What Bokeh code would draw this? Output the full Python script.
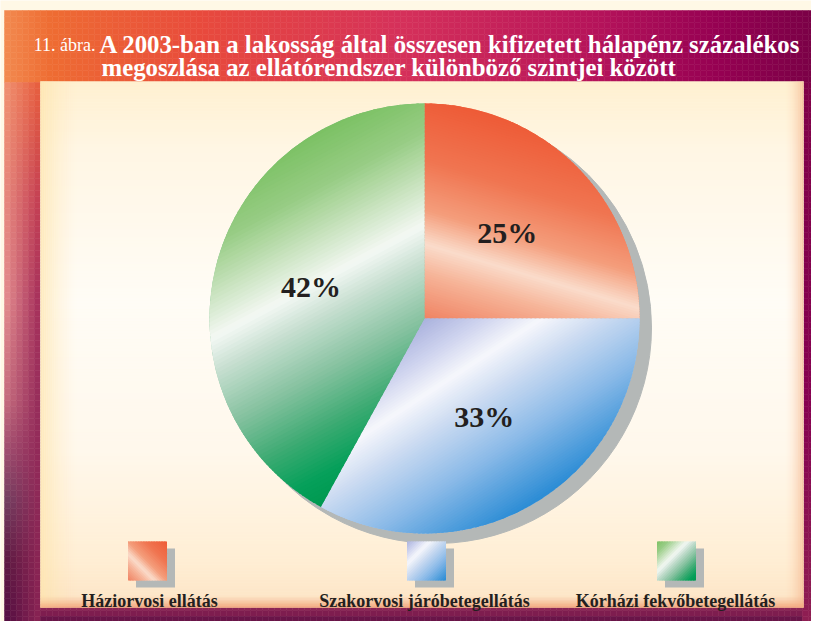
import numpy as np
from bokeh.plotting import figure
from bokeh.models import Range1d
from bokeh.embed import file_html
from bokeh.resources import INLINE
from bokeh.core.properties import value

# ---------------- data ----------------
categories = ["Háziorvosi ellátás", "Szakorvosi járóbetegellátás", "Kórházi fekvőbetegellátás"]
shares = [25, 33, 42]
pct_labels = ["25%", "33%", "42%"]
title_prefix = "11. ábra."
title_lines = ["A 2003-ban a lakosság által összesen kifizetett hálapénz százalékos",
               "megoszlása az ellátórendszer különböző szintjei között"]

# ---------------- styles ----------------
base_colors = ["#F2845F", "#A8C8EC", "#72BC8A"]
grad_dirs = [(-0.287, 0.958), (0.547, 0.837), (0.470, 0.883)]   # screen direction (y down)
grad_stops = [
    [(0, "#EE5A36"), (0.3, "#F07652"), (0.52, "#F49E7C"), (0.67, "#FADCCB"), (0.8, "#F6B498"), (1.0, "#F08464")],
    [(0, "#A9B1DD"), (0.15, "#CDD2EE"), (0.3, "#F6F7FC"), (0.45, "#CFDDF2"), (0.7, "#8DBBE8"), (1.0, "#2B8CD5")],
    [(0, "#7BC163"), (0.15, "#97CC84"), (0.3, "#CFE6C6"), (0.4, "#F4F8F4"), (0.5, "#C5DECF"),
     (0.65, "#86C2A0"), (0.8, "#3CAA72"), (0.92, "#05A05A"), (1.0, "#009850")],
]
legend_dirs = [(-0.707, 0.707), (0.707, 0.707), (0.707, 0.707)]
shadow_col = "#B4B8B7"
text_col = "#231F20"
SERIF = "Liberation Serif"

REF_H = 637
W, H = 811, 621


def Y(y):
    return REF_H - y


def hex2rgb(h):
    h = h.lstrip('#')
    return np.array([int(h[i:i + 2], 16) for i in (0, 2, 4)], float)


def rgb2hex(c):
    c = np.clip(np.round(c), 0, 255).astype(int)
    return "#%02x%02x%02x" % tuple(c)


def interp(stops, t):
    ts = [s[0] for s in stops]
    cs = [hex2rgb(s[1]) for s in stops]
    t = min(max(t, ts[0]), ts[-1])
    for i in range(len(ts) - 1):
        if t <= ts[i + 1]:
            d = ts[i + 1] - ts[i]
            f = (t - ts[i]) / d if d > 0 else 0.0
            return cs[i] * (1 - f) + cs[i + 1] * f
    return cs[-1]


def clip(poly, n, c, keep_ge):
    out = []
    L = len(poly)
    for i in range(L):
        P = poly[i]
        Q = poly[(i + 1) % L]
        dp = P[0] * n[0] + P[1] * n[1] - c
        dq = Q[0] * n[0] + Q[1] * n[1] - c
        if not keep_ge:
            dp, dq = -dp, -dq
        if dp >= 0:
            out.append(P)
        if (dp >= 0) != (dq >= 0):
            t = dp / (dp - dq)
            out.append((P[0] + t * (Q[0] - P[0]), P[1] + t * (Q[1] - P[1])))
    return out


def gradient_patches(poly, n_screen, stops, nstrips=80):
    n = np.array([n_screen[0], -n_screen[1]], float)
    n = n / np.linalg.norm(n)
    proj = [q[0] * n[0] + q[1] * n[1] for q in poly]
    lo, hi = min(proj), max(proj)
    step = (hi - lo) / nstrips
    xs, ys, cols = [], [], []
    for k in range(nstrips):
        a = lo + k * step - 0.7
        b = lo + (k + 1) * step + 0.7
        piece = clip(poly, n, a, True)
        if len(piece) < 3:
            continue
        piece = clip(piece, n, b, False)
        if len(piece) < 3:
            continue
        xs.append([q[0] for q in piece])
        ys.append([q[1] for q in piece])
        cols.append(rgb2hex(interp(stops, (k + 0.5) / nstrips)))
    return xs, ys, cols


p = figure(width=W, height=H, x_range=Range1d(0, W), y_range=Range1d(REF_H - H, REF_H),
           output_backend="svg", toolbar_location=None, min_border=0,
           x_axis_type=None, y_axis_type=None)
p.grid.visible = False
p.outline_line_color = None
p.background_fill_color = "#FFF8E6"
p.border_fill_color = "#FFF8E6"

# ---------------- frame ----------------
FL, FT, FR, FB = 4, 10, 811, 621
PL, PT, PR, PB = 40, 81, 803, 607

top_stops = [(4, "#F28A50"), (50, "#EE6C32"), (200, "#E84A3C"), (400, "#D5305A"),
             (600, "#B4125A"), (720, "#950052"), (811, "#7A0046")]
left_in = [(80, "#E85C3A"), (200, "#C23A50"), (300, "#A22A58"), (400, "#932858"), (621, "#8B2454")]
left_out = [(80, "#F09272"), (200, "#E88C80"), (300, "#E69090"), (400, "#C87080"), (450, "#A05070"),
            (500, "#704060"), (560, "#5A1840"), (621, "#500C40")]
right_stops = [(10, "#7E0046"), (400, "#860050"), (621, "#8E1E52")]
bottom_stops = [(PB, "#8B2454"), (614, "#7C1C4E"), (621, "#5E1044")]


def frame_col(x, y):
    if y < PT:
        return interp(top_stops, x)
    if x < PL:
        f = max(0.0, min(1.0, (x - FL) / (PL - FL)))
        return interp(left_out, y) * (1 - f) + interp(left_in, y) * f
    if x > PR:
        return interp(right_stops, y)
    return interp(bottom_stops, y)


cell = 6
ql, qr, qt, qb, qc = [], [], [], [], []
for x0 in range(FL, FR, cell):
    x1 = min(x0 + cell, FR)
    for y0 in range(FT, FB, cell):
        y1 = min(y0 + cell, FB)
        if x0 >= PL and x1 <= PR and y0 >= PT and y1 <= PB:
            continue
        ql.append(x0); qr.append(x1); qt.append(Y(y0)); qb.append(Y(y1))
        qc.append(rgb2hex(frame_col((x0 + x1) / 2, (y0 + y1) / 2)))
p.quad(left=ql, right=qr, top=qt, bottom=qb, fill_color=qc, line_color=qc, line_width=0.5)

# ---------------- inner panel ----------------
panel_stops = [(PT, "#FFF0D0"), (150, "#FFF6E4"), (300, "#FFFCF6"), (450, "#FFF8EC"),
               (560, "#FFEED4"), (596, "#FDE6C8"), (PB, "#F8C8A0")]
ys0 = list(range(PT, PB, 3))
pc = [rgb2hex(interp(panel_stops, y + 1.5)) for y in ys0]
p.quad(left=PL, right=PR, top=[Y(y) for y in ys0], bottom=[Y(min(y + 3, PB)) for y in ys0],
       fill_color=pc, line_color=pc, line_width=0.5)
# left glow
gx = list(range(PL, PL + 36, 2))
p.quad(left=gx, right=[x + 2 for x in gx], top=Y(PT), bottom=Y(PB), fill_color="#FDE3A8",
       fill_alpha=[0.7 * (1 - (x - PL) / 36) ** 1.5 for x in gx], line_color=None)
# right glow
gx = list(range(PR - 20, PR, 2))
p.quad(left=gx, right=[x + 2 for x in gx], top=Y(PT), bottom=Y(PB), fill_color="#F6B890",
       fill_alpha=[0.8 * ((x + 1 - (PR - 20)) / 20) ** 2 for x in gx], line_color=None)
# bottom glow
gy = list(range(PB - 12, PB, 1))
p.quad(left=PL, right=PR, top=[Y(y) for y in gy], bottom=[Y(y + 1) for y in gy], fill_color="#F4A47C",
       fill_alpha=[0.85 * ((y + 1 - (PB - 12)) / 12) ** 2 for y in gy], line_color=None)

# ---------------- pie ----------------
cx, cy, R = 424, Y(318), 215
frac = np.array(shares, float) / sum(shares)
cum = np.concatenate([[0], np.cumsum(frac)])
start = np.pi / 2 - 2 * np.pi * cum[:-1]
end = np.pi / 2 - 2 * np.pi * cum[1:]

p.wedge(x=cx + 11, y=cy - 9, radius=R + 1, start_angle=start, end_angle=end, direction="clock",
        fill_color=shadow_col, line_color=shadow_col)
p.wedge(x=cx, y=cy, radius=R, start_angle=start, end_angle=end, direction="clock",
        fill_color=base_colors, line_color=None)

for i in range(len(shares)):
    angs = np.linspace(start[i], end[i], 240)
    poly = [(cx, cy)] + [(cx + R * np.cos(a), cy + R * np.sin(a)) for a in angs]
    xs, ys, cols = gradient_patches(poly, grad_dirs[i], grad_stops[i], 90)
    p.patches(xs=xs, ys=ys, fill_color=cols, line_color=None)

mid = (start + end) / 2
lx = cx + 0.545 * R * np.cos(mid)
ly = cy + 0.545 * R * np.sin(mid) + 3
p.text(x=lx, y=ly, text=pct_labels, text_font=value(SERIF), text_font_style="bold",
       text_font_size="30px", text_align="center", text_baseline="middle", text_color=text_col)

# ---------------- title ----------------
p.text(x=[95], y=[Y(44)], text=[title_prefix], text_font=value(SERIF), text_font_style="normal",
       text_font_size="18px", text_align="right", text_baseline="alphabetic", text_color="#FFFFFF")
p.text(x=[99, 101], y=[Y(44), Y(67)], text=title_lines, text_font=value(SERIF), text_font_style="bold",
       text_font_size="24.8px", text_align="left", text_baseline="alphabetic", text_color="#FFFFFF")

# ---------------- legend ----------------
sq_cx = [147, 426, 676]
lab_cx = [149, 424, 675]
SQ = 39
sq_top = 541
for i in range(len(categories)):
    l = sq_cx[i] - SQ / 2
    p.quad(left=[l + 8], right=[l + SQ + 8], top=[Y(sq_top + 7)], bottom=[Y(sq_top + SQ + 7)],
           fill_color=shadow_col, line_color=None)
    poly = [(l, Y(sq_top)), (l + SQ, Y(sq_top)), (l + SQ, Y(sq_top + SQ)), (l, Y(sq_top + SQ))]
    xs, ys, cols = gradient_patches(poly, legend_dirs[i], grad_stops[i], 30)
    p.patches(xs=xs, ys=ys, fill_color=cols, line_color=None)
p.text(x=lab_cx, y=[Y(600)] * 3, text=categories, text_font=value(SERIF), text_font_style="bold",
       text_font_size="18px", text_align="center", text_baseline="alphabetic", text_color=text_col)

open("out.html", "w").write(file_html(p, INLINE))
